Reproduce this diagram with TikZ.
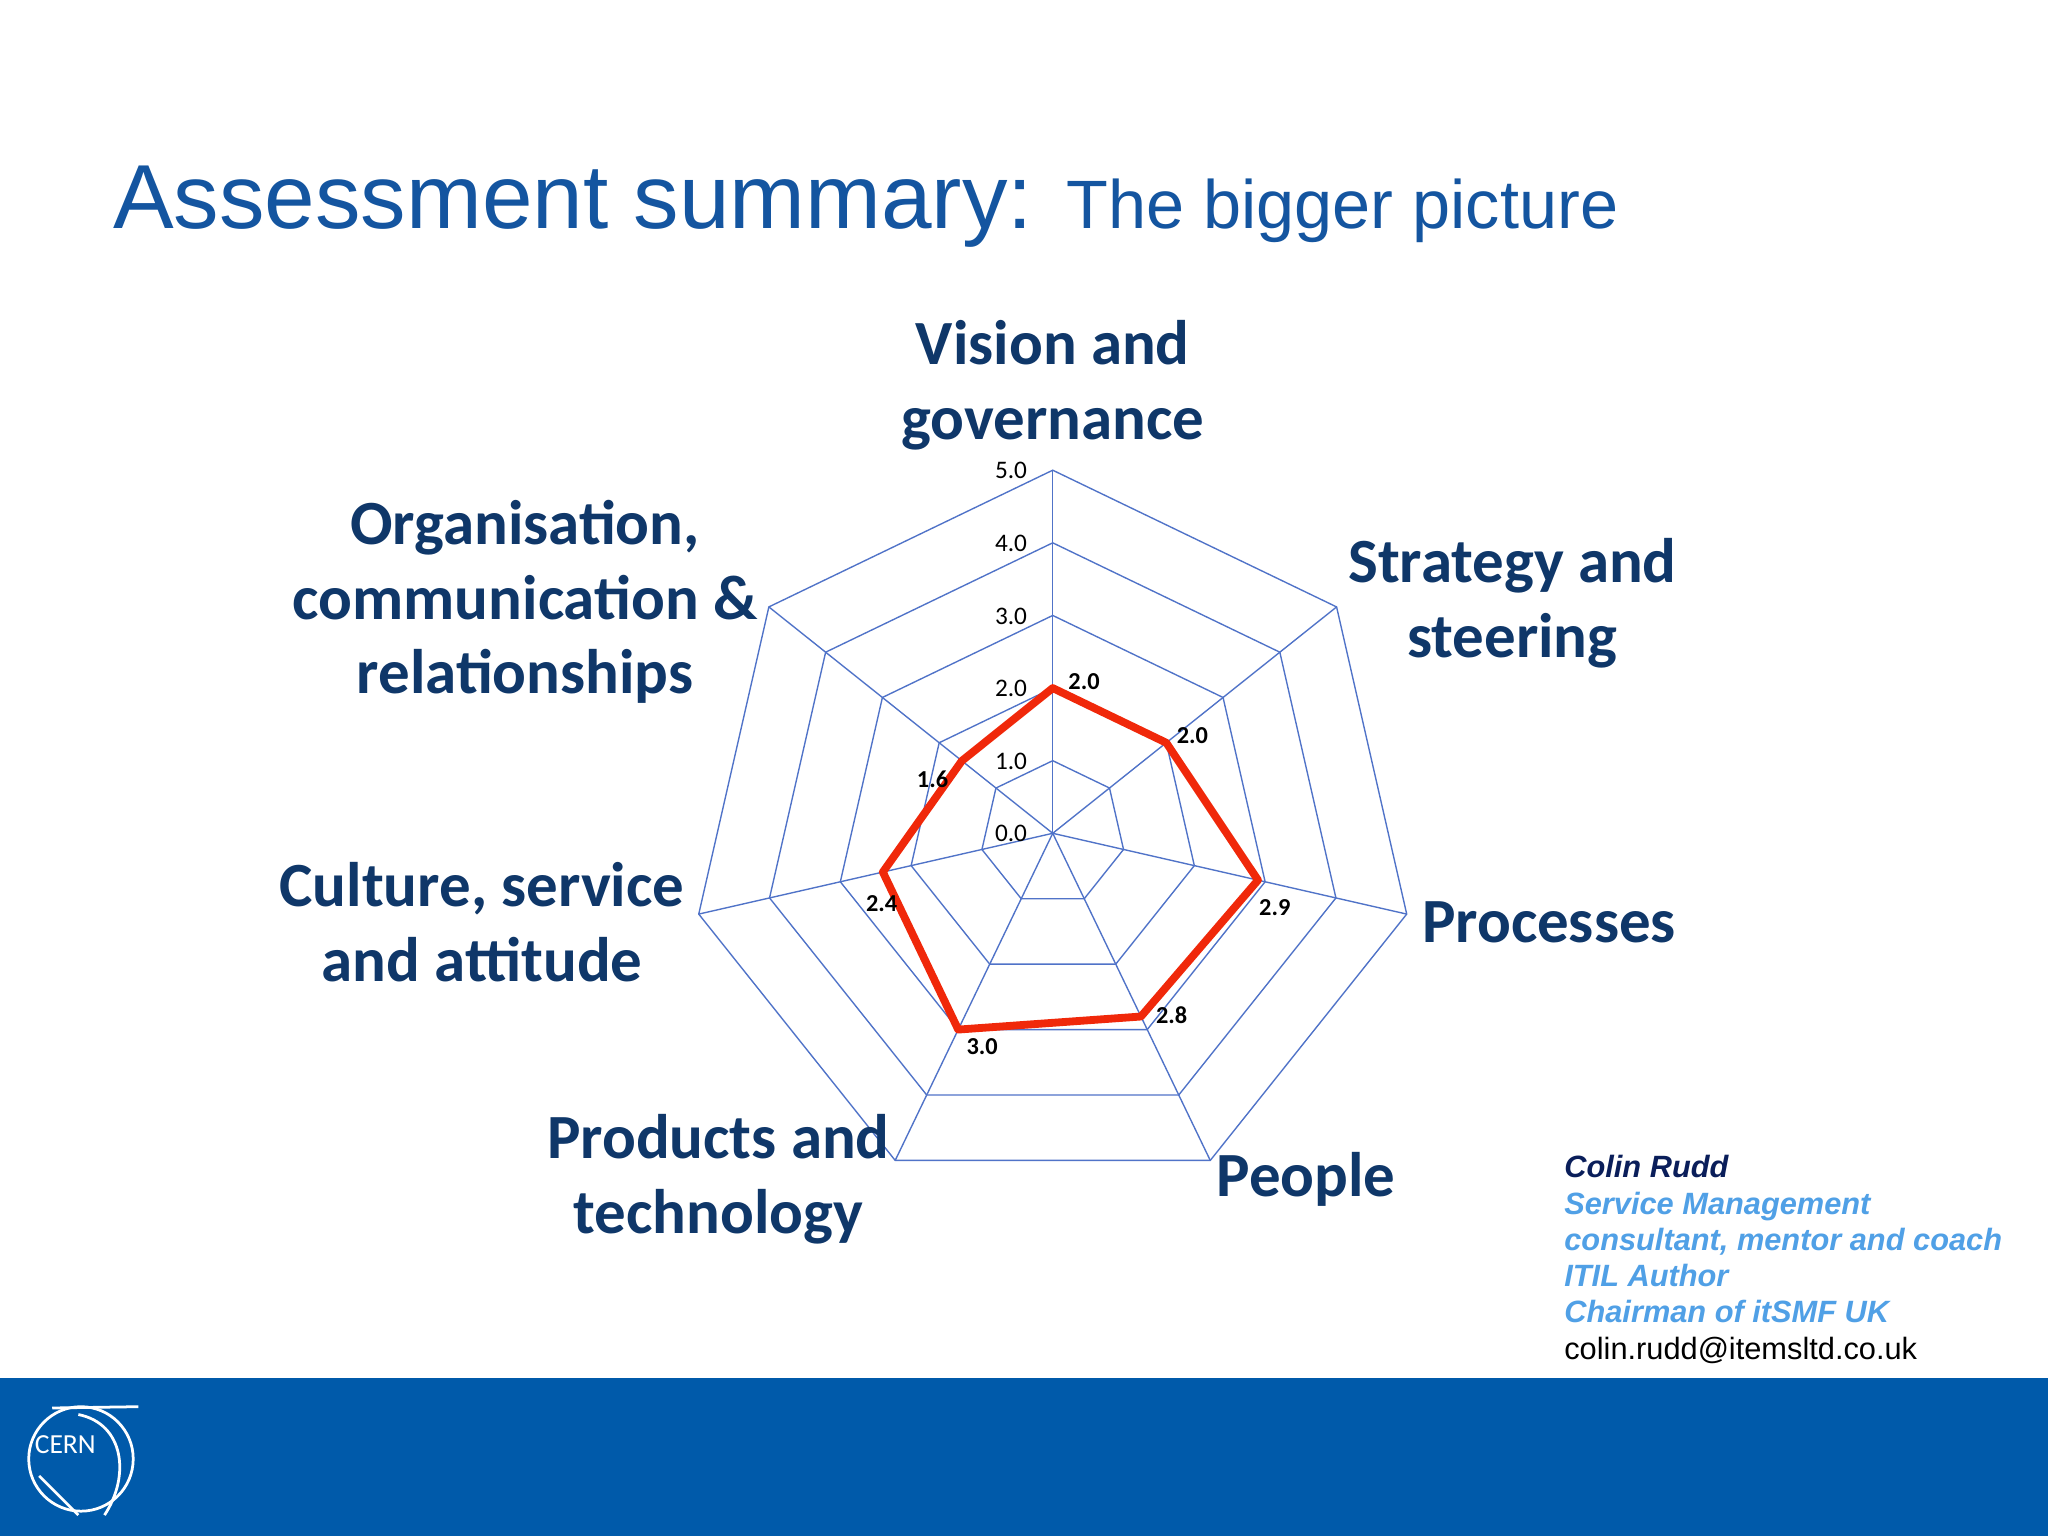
\documentclass[tikz,border=0pt]{standalone}
\usepackage{fontspec}
\setmainfont{Carlito}
\newfontfamily\arialf{Liberation Sans}
\definecolor{gridb}{RGB}{80,115,200}
\definecolor{labb}{RGB}{15,55,105}
\definecolor{titleb}{RGB}{20,85,160}
\definecolor{barb}{RGB}{0,90,170}
\definecolor{redl}{RGB}{240,40,10}
\definecolor{lightb}{RGB}{80,160,230}
\definecolor{darkn}{RGB}{10,30,90}
\tikzset{axlab/.style={font=\fontsize{13.7}{16.2}\selectfont\bfseries,text=labb,align=center},
 tick/.style={font=\fontsize{5.5}{6}\selectfont,inner sep=0pt},
 dlab/.style={font=\fontsize{5.3}{6}\selectfont\bfseries,inner sep=0pt}}
\begin{document}
\begin{tikzpicture}[x=0.01cm,y=-0.01cm]
\useasboundingbox (0,0) rectangle (1568,1176);
\fill[white] (0,0) rectangle (1568,1176);
\node[anchor=base west,inner sep=0pt,text=titleb] (title) at (86,175) {\arialf\fontsize{19.8}{24}\selectfont Assessment summary: \fontsize{14.9}{18}\selectfont The bigger picture};
\begin{scope}[shift={(806,638)}]
\foreach \r in {1,2,3,4,5}{
 \draw[gridb,line width=0.3pt] (-90:\r*55.6) \foreach \k in {1,...,6}{ -- (\k*360/7-90:\r*55.6)} -- cycle;}
\foreach \k in {0,...,6}{\draw[gridb,line width=0.3pt] (0,0) -- (\k*360/7-90:278);}
\foreach \v/\y in {0.0/638,1.0/583,2.0/527,3.0/472,4.0/416,5.0/360}{
 \node[tick,anchor=east] at (-19,\y-638) {\v};}
\draw[redl,line width=1.7pt,line join=round] (-90:111.2) -- (360/7-90:111.2) -- (2*360/7-90:161.2) -- (3*360/7-90:155.7) -- (4*360/7-90:166.8) -- (5*360/7-90:133.4) -- (6*360/7-90:89) -- cycle;
\end{scope}
\node[dlab] (d1) at (830,522) {2.0};
\node[dlab] (d2) at (913,563) {2.0};
\node[dlab] (d3) at (976,695) {2.9};
\node[dlab] (d4) at (897,777) {2.8};
\node[dlab] (d5) at (752,801) {3.0};
\node[dlab] (d6) at (675,692) {2.4};
\node[dlab] (d7) at (714,597) {1.6};
\node[axlab] (l1) at (806,295) {Vision and\\governance};
\node[axlab] (l2) at (1158,462) {Strategy and\\steering};
\node[axlab] (l3) at (1186,706) {Processes};
\node[axlab] (l4) at (1000,903) {People};
\node[axlab] (l5) at (550,903) {Products and\\technology};
\node[axlab] (l6) at (369,706) {Culture, service\\and attitude};
\node[axlab] (l7) at (402,461) {Organisation,\\communication \&\\relationships};
\node[anchor=north west,inner sep=0pt,align=left,font=\arialf\fontsize{6.7}{7.9}\selectfont\itshape\bfseries] (cr) at (1197,884)
 {\textcolor{darkn}{Colin Rudd}\\\textcolor{lightb}{Service Management}\\\textcolor{lightb}{consultant, mentor and coach}\\\textcolor{lightb}{ITIL Author}\\\textcolor{lightb}{Chairman of itSMF UK}\\{\upshape\mdseries colin.rudd@itemsltd.co.uk}};
\fill[barb] (0,1055) rectangle (1568,1176);
\draw[white,line width=0.6pt] (62,1117) circle (40);
\draw[white,line width=0.6pt] (60,1083) .. controls (95,1090) and (100,1130) .. (80,1160);
\draw[white,line width=0.6pt] (30,1130) -- (60,1160);
\draw[white,line width=0.6pt] (40,1078) -- (106,1077);
\node[white,font=\fontsize{6}{7}\selectfont,inner sep=0pt] (cern) at (50,1106) {CERN};
\end{tikzpicture}
\end{document}
